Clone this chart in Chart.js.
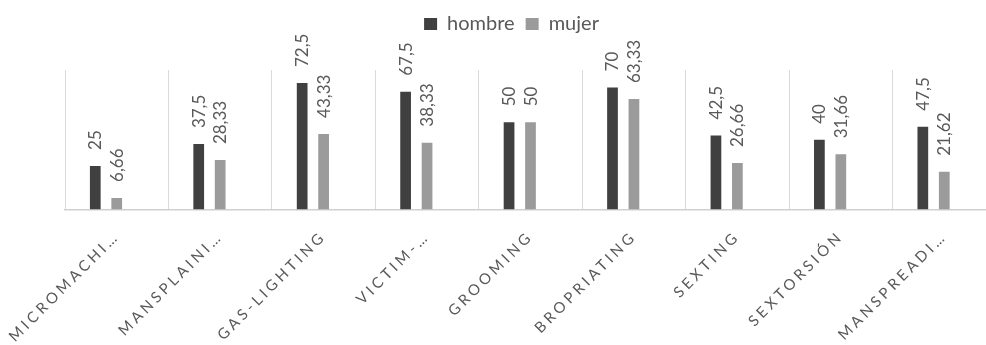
<!DOCTYPE html>
<html>
<head>
<meta charset="utf-8">
<script src="https://cdn.jsdelivr.net/npm/chart.js@4.4.1/dist/chart.umd.min.js"></script>
<style>
  html, body { margin: 0; padding: 0; background: #ffffff; overflow: hidden; }
  #wrap { width: 1023px; height: 345px; }
</style>
</head>
<body>
<div id="wrap"><canvas id="grafico" width="1023" height="345"></canvas></div>
<script>
// Categorías (rótulos tal como se muestran, recortados)
const categorias = ['MICROMACHI…', 'MANSPLAINI…', 'GAS-LIGHTING', 'VICTIM-…', 'GROOMING',
                    'BROPRIATING', 'SEXTING', 'SEXTORSIÓN', 'MANSPREADI…'];
// Porcentajes por sexo
const hombre = [25, 37.5, 72.5, 67.5, 50, 70, 42.5, 40, 47.5];
const mujer  = [6.66, 28.33, 43.33, 38.33, 50, 63.33, 26.66, 31.66, 21.62];
// Tercera serie sin datos: ocupa su hueco dentro de cada grupo
const sinDatos = [null, null, null, null, null, null, null, null, null];
// Escala vertical
const yMin = 0;
const yMax = 80;

const grisTexto = '#595959';
const fmt = v => String(v).replace('.', ',');

// Rótulos de valor, girados 90°, encima de cada barra
const rotulosValor = {
  id: 'rotulosValor',
  afterDatasetsDraw(chart) {
    const ctx = chart.ctx;
    ctx.save();
    ctx.font = '17px Lato';
    ctx.fillStyle = grisTexto;
    ctx.textAlign = 'left';
    ctx.textBaseline = 'alphabetic';
    [0, 1].forEach(di => {
      const meta = chart.getDatasetMeta(di);
      const datos = chart.data.datasets[di].data;
      meta.data.forEach((barra, i) => {
        if (datos[i] == null) return;
        ctx.save();
        ctx.translate(barra.x + 6, barra.y - 16);
        ctx.rotate(-Math.PI / 2);
        ctx.fillText(fmt(datos[i]), 0, 0);
        ctx.restore();
      });
    });
    ctx.restore();
  }
};

// Espaciado entre letras en los rótulos del eje X y altura fija de la leyenda
const ajustes = {
  id: 'ajustes',
  beforeInit(chart) {
    const leyenda = chart.legend;
    if (leyenda && !leyenda._ajustada) {
      const fitOriginal = leyenda.fit.bind(leyenda);
      leyenda.fit = function () {
        fitOriginal();
        this.height = 67;
      };
      leyenda._ajustada = true;
    }
  },
  afterLayout(chart) {
    const x = chart.scales.x;
    if (!x || x._conEspaciado) return;
    const original = x.drawLabels.bind(x);
    x.drawLabels = function (area) {
      const ctx = this.ctx;
      ctx.save();
      ctx.letterSpacing = '3.5px';
      original(area);
      ctx.restore();
    };
    x._conEspaciado = true;
  }
};

const sinMarcas = {
  ticks: { display: false },
  grid: { display: false },
  border: { display: false }
};

new Chart(document.getElementById('grafico'), {
  type: 'bar',
  data: {
    labels: categorias,
    datasets: [
      { label: 'hombre', data: hombre, backgroundColor: '#404040' },
      { label: 'mujer',  data: mujer,  backgroundColor: '#9b9b9b' },
      { label: '', data: sinDatos, backgroundColor: 'rgba(0,0,0,0)' }
    ]
  },
  options: {
    responsive: false,
    animation: false,
    devicePixelRatio: 1,
    layout: { padding: { top: 3, left: 0, right: 0, bottom: 0 } },
    datasets: { bar: { categoryPercentage: 0.622, barPercentage: 0.5 } },
    scales: {
      x: {
        offset: true,
        grid: { color: '#d9d9d9', lineWidth: 1, drawTicks: false, offset: true },
        border: { color: '#d0d0d0', width: 1.5 },
        ticks: {
          color: grisTexto,
          font: { family: 'Lato', size: 15 },
          minRotation: 45,
          maxRotation: 45,
          autoSkip: false,
          padding: 18
        },
        afterFit(scale) { scale.height = 135.5; }
      },
      y: {
        ...sinMarcas,
        min: yMin,
        max: yMax,
        afterFit(scale) { scale.width = 65; }
      },
      margenDerecho: {
        ...sinMarcas,
        position: 'right',
        afterFit(scale) { scale.width = 27; }
      }
    },
    plugins: {
      legend: {
        position: 'top',
        labels: {
          color: grisTexto,
          font: { family: 'Lato', size: 20 },
          boxWidth: 13,
          boxHeight: 12,
          padding: 11,
          filter: item => item.text !== ''
        }
      },
      tooltip: { enabled: false }
    }
  },
  plugins: [rotulosValor, ajustes]
});
</script>
</body>
</html>
